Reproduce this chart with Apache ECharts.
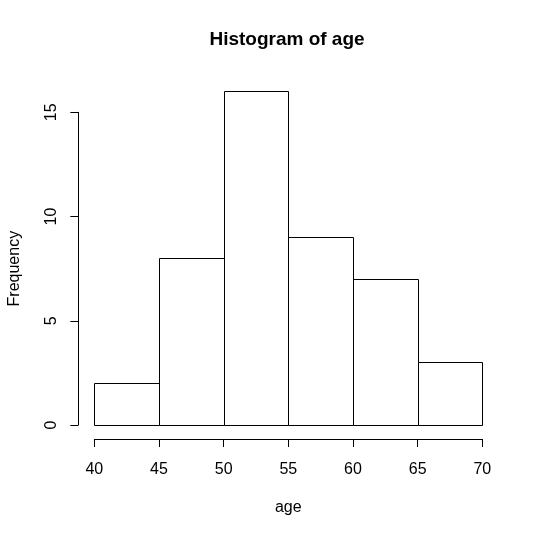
<!DOCTYPE html>
<html>
<head>
<meta charset="utf-8">
<script src="https://cdn.jsdelivr.net/npm/echarts@6/dist/echarts.min.js"></script>
<style>
  html, body { margin: 0; padding: 0; background: #fff; }
  #main { width: 538px; height: 537px; }
</style>
</head>
<body>
<div id="main"></div>
<script>
// histogram bins (age) and counts
var binStarts = [40, 45, 50, 55, 60, 65];
var binEnds = [45, 50, 55, 60, 65, 70];
var counts = [2, 8, 16, 9, 7, 3];
var xTicks = [40, 45, 50, 55, 60, 65, 70];
var yTicks = [0, 5, 10, 15];

var font = 'Liberation Sans, Arial, sans-serif';
var chart = echarts.init(document.getElementById('main'));

var histData = binStarts.map(function (s, i) {
    return [s, binEnds[i], counts[i]];
});

// one rectangle per bin, snapped to half pixels so the outlines stay crisp
function renderBin(params, api) {
    var p0 = api.coord([api.value(0), 0]);
    var p1 = api.coord([api.value(1), api.value(2)]);
    var x0 = Math.round(p0[0]) + 0.5, x1 = Math.round(p1[0]) + 0.5;
    var y0 = Math.round(p0[1]) + 0.5, y1 = Math.round(p1[1]) + 0.5;
    return {
        type: 'rect',
        shape: {x: x0, y: y1, width: x1 - x0, height: y0 - y1},
        style: {fill: '#fff', stroke: '#000', lineWidth: 1}
    };
}

var option = {
    backgroundColor: '#fff',
    animation: false,
    title: {
        text: 'Histogram of age',
        left: 287,
        top: 30,
        padding: 0,
        textAlign: 'center',
        textStyle: {fontFamily: font, fontSize: 19, fontWeight: 'bold', color: '#000'}
    },
    grid: {left: 94.3, right: 55.7, top: 112.3, bottom: 112, outerBoundsMode: 'none'},
    xAxis: {
        type: 'value',
        min: 40,
        max: 70,
        interval: 5,
        offset: 14,
        name: 'age',
        nameLocation: 'middle',
        nameGap: 61,
        nameTextStyle: {fontFamily: font, fontSize: 16, color: '#000'},
        axisLine: {show: true, onZero: false, lineStyle: {color: '#000', width: 1}},
        axisTick: {show: true, length: 8, lineStyle: {color: '#000'}, customValues: xTicks},
        axisLabel: {fontFamily: font, fontSize: 16, color: '#000', margin: 23, customValues: xTicks},
        splitLine: {show: false}
    },
    yAxis: {
        type: 'value',
        min: 0,
        max: 15,
        interval: 5,
        offset: 16,
        name: 'Frequency',
        nameLocation: 'middle',
        nameGap: 56,
        nameTextStyle: {fontFamily: font, fontSize: 16, color: '#000'},
        axisLine: {show: true, onZero: false, lineStyle: {color: '#000', width: 1}},
        axisTick: {show: true, length: 8, lineStyle: {color: '#000'}, customValues: yTicks},
        axisLabel: {fontFamily: font, fontSize: 16, color: '#000', rotate: 90, margin: 19, customValues: yTicks},
        splitLine: {show: false}
    },
    series: [{
        type: 'custom',
        data: histData,
        encode: {x: [0, 1], y: 2},
        clip: false,
        renderItem: renderBin
    }]
};
chart.setOption(option);
</script>
</body>
</html>
